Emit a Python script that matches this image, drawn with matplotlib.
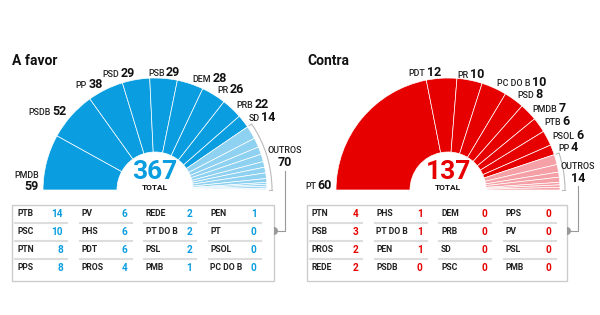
import numpy as np
import matplotlib.pyplot as plt
from matplotlib.patches import Wedge, Arc, Rectangle

plt.rcParams['font.family'] = ['Roboto', 'DejaVu Sans']

# Votes "A favor"
favor_parties = ['PMDB', 'PSDB', 'PP', 'PSD', 'PSB', 'DEM', 'PR', 'PRB', 'SD']
favor_seats = [59, 52, 38, 29, 29, 28, 26, 22, 14]
favor_outros_parties = ['PTB', 'PSC', 'PTN', 'PPS', 'PV', 'PHS', 'PDT', 'PROS',
                        'REDE', 'PT DO B', 'PSL', 'PMB', 'PEN', 'PT', 'PSOL', 'PC DO B']
favor_outros_seats = [14, 10, 8, 8, 6, 6, 6, 4, 2, 2, 2, 1, 1, 0, 0, 0]

# Votes "Contra"
contra_parties = ['PT', 'PDT', 'PR', 'PC DO B', 'PSD', 'PMDB', 'PTB', 'PSOL', 'PP']
contra_seats = [60, 12, 10, 10, 8, 7, 6, 6, 4]
contra_outros_parties = ['PTN', 'PSB', 'PROS', 'REDE', 'PHS', 'PT DO B', 'PEN', 'PSDB',
                         'DEM', 'PRB', 'SD', 'PSC', 'PPS', 'PV', 'PSL', 'PMB']
contra_outros_seats = [4, 3, 2, 2, 1, 1, 1, 0, 0, 0, 0, 0, 0, 0, 0, 0]

W, H = 600, 315
fig = plt.figure(figsize=(W / 100, H / 100), dpi=100)
ax = fig.add_axes([0, 0, 1, 1])
ax.set_xlim(0, W)
ax.set_ylim(0, H)
ax.axis('off')
fig.canvas.draw()
renderer = fig.canvas.get_renderer()

R, r = 112, 38
NAME_FS, NUM_FS = 6.4, 9


def text_w(t):
    return t.get_window_extent(renderer).width


def label(x, y, name, val, ha, color='#111111'):
    # small party name + bold number on one baseline
    tn = ax.text(0, y, name, fontsize=NAME_FS, fontweight=500, color='#222222', va='baseline')
    tv = ax.text(0, y, str(val), fontsize=NUM_FS, fontweight='bold', color=color, va='baseline')
    wn, wv, gap = text_w(tn), text_w(tv), 1.5
    total = wn + gap + wv
    x0 = {'left': x, 'right': x - total, 'center': x - total / 2}[ha]
    tn.set_x(x0)
    tv.set_x(x0 + wn + gap)


def chamber(cx, title, parties, seats, o_parties, o_seats, dark, light, box_x, box_w, stacked):
    cy = 125
    total = sum(seats) + sum(o_seats)
    ax.text(box_x, 254, title, fontsize=10, fontweight=600, color='#111111', va='center')

    vals = list(seats) + list(o_seats)
    cols = [dark] * len(seats) + [light] * len(o_seats)
    cum = 0
    mids = []
    for v, c in zip(vals, cols):
        t2 = 180 - cum / total * 180
        cum += v
        t1 = 180 - cum / total * 180
        mids.append((t1 + t2) / 2)
        if v > 0:
            ax.add_patch(Wedge((cx, cy), R, t1, t2, width=R - r, facecolor=c,
                               edgecolor='white', linewidth=0.5))

    # party labels
    for i, (p, v) in enumerate(zip(parties, seats)):
        a = np.radians(mids[i])
        if i == 0:
            if stacked:
                ax.text(cx - R - 4, 137, p, fontsize=NAME_FS, fontweight=500, color='#222222',
                        ha='right', va='baseline')
                ax.text(cx - R - 4, 125, str(v), fontsize=NUM_FS, fontweight='bold',
                        color='#111111', ha='right', va='baseline')
            else:
                label(cx - R - 4, 126, p, v, 'right')
            continue
        x = cx + 118 * np.cos(a)
        y = cy + 118 * np.sin(a) - 3.5
        c = np.cos(a)
        ha = 'right' if c < 0 else ('center' if c <= 0.25 else 'left')
        label(x, y, p, v, ha)

    # outros bracket
    o_start = 180 - sum(seats) / total * 180
    rb = R + 5
    ax.add_patch(Arc((cx, cy), 2 * rb, 2 * rb, theta1=0, theta2=o_start,
                     color='#bbbbbb', linewidth=0.8))
    for ang in (0, o_start):
        a = np.radians(ang)
        ax.plot([cx + (R + 2) * np.cos(a), cx + rb * np.cos(a)],
                [cy + (R + 2) * np.sin(a), cy + rb * np.sin(a)], color='#bbbbbb', lw=0.8)

    o_mid = cy + R * np.sin(np.radians(o_start / 2))
    xo = cx + R + 18
    ax.text(xo, o_mid + 6, 'OUTROS', fontsize=NAME_FS, fontweight=500, color='#222222',
            ha='center', va='center')
    ax.text(xo, o_mid - 6, str(sum(o_seats)), fontsize=NUM_FS, fontweight='bold',
            color='#111111', ha='center', va='center')

    # center total
    ax.text(cx, 143, str(total), fontsize=19, fontweight='bold', color=dark,
            ha='center', va='center')
    ax.text(cx, 127, 'TOTAL', fontsize=6, fontweight='bold', color='#111111',
            ha='center', va='center')

    # table box
    box_y, box_h = 34, 76
    ax.add_patch(Rectangle((box_x, box_y), box_w, box_h, facecolor='white',
                           edgecolor='#cccccc', linewidth=1))
    ty = 84
    ax.plot([xo, xo, box_x + box_w + 4], [o_mid - 14, ty, ty], color='#999999', lw=0.8)
    ax.add_patch(Wedge((box_x + box_w, ty), 4, -90, 90, facecolor='#999999', edgecolor='none'))

    for k, (p, v) in enumerate(zip(o_parties, o_seats)):
        col, row = divmod(k, 4)
        nx = box_x + 5 + col * 64.5
        vx = box_x + 51 + col * 64.5
        yy = box_y + box_h - 9 - row * 18
        ax.text(nx, yy, p, fontsize=6.2, fontweight=600, color='#222222', va='center')
        ax.text(vx, yy, str(v), fontsize=7.2, fontweight='bold', color=dark,
                ha='right', va='center')
        if row < 3:
            ax.plot([nx - 2, vx + 4], [yy - 9, yy - 9], color='#dddddd', lw=1.5)


chamber(155, 'A favor', favor_parties, favor_seats, favor_outros_parties, favor_outros_seats,
        '#0a9ee0', '#8ed1f1', 12, 262, True)
chamber(448, 'Contra', contra_parties, contra_seats, contra_outros_parties, contra_outros_seats,
        '#e60000', '#f5a0a6', 307, 260, False)

fig.savefig('out.png', dpi=100)
